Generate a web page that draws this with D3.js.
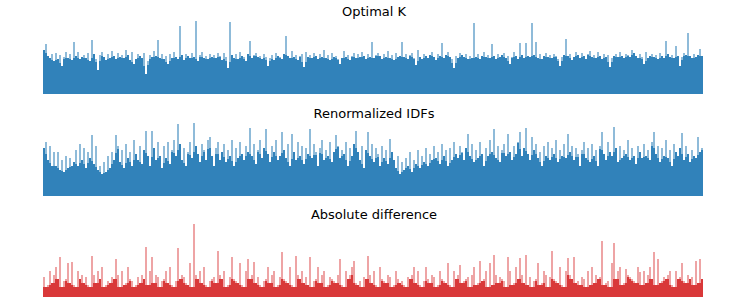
<!DOCTYPE html>
<html>
<head>
<meta charset="utf-8">
<script src="https://cdn.jsdelivr.net/npm/d3@7"></script>
<style>
  body { margin: 0; background: #fff; }
  svg text { font-family: "DejaVu Sans", sans-serif; }
</style>
</head>
<body>
<svg id="chart" width="747" height="308"></svg>
<script>
// values, one value per ~2px column
const optimalK = [
  44,50,38,36,40,33,41,35,39,28,37,42,36,40,34,52,38,42,35,37,39,36,41,33,54,40,35,24,39,42,
  37,34,40,36,43,38,35,41,37,39,36,44,39,34,42,30,35,40,38,36,41,20,33,39,37,43,38,54,36,40,
  35,38,30,40,36,42,37,35,68,39,34,40,38,36,41,37,73,33,39,42,36,38,35,40,37,39,36,41,38,34,
  41,37,26,72,39,36,40,35,42,38,37,33,40,53,36,39,41,37,38,35,40,37,28,36,39,34,41,38,37,35,
  40,58,38,36,43,37,39,34,38,40,27,42,37,39,36,41,38,35,40,37,44,36,39,34,41,37,38,35,30,36,
  43,37,39,34,38,41,36,40,37,42,38,35,40,37,52,36,39,41,38,35,40,37,43,36,39,34,41,37,38,52,
  37,40,35,39,41,36,29,44,37,35,40,38,36,39,42,37,34,40,38,51,36,39,42,37,35,26,38,36,41,39,
  37,40,35,38,36,71,37,40,35,38,42,37,39,36,50,38,35,40,37,39,41,36,38,30,37,42,38,35,51,39,
  36,51,38,37,71,39,52,36,40,35,38,41,37,39,36,40,38,35,28,37,39,55,38,40,34,37,42,39,36,41,
  38,35,40,43,37,39,36,42,38,35,40,37,39,27,36,38,40,37,42,38,36,40,39,37,44,41,38,36,40,37,
  30,42,36,38,40,37,39,35,41,38,36,53,40,37,39,36,48,38,28,37,41,39,61,38,36,40,37,39,45,38
];

const renormIDF = [
  48,54,36,50,30,44,30,44,26,36,24,40,28,38,30,34,46,30,52,36,48,28,44,38,61,32,50,26,30,22,
  34,24,40,28,44,36,61,50,34,46,28,52,38,44,30,56,42,36,50,32,46,65,40,30,65,48,36,54,40,28,
  50,38,54,32,46,56,40,72,52,36,48,30,44,54,38,73,50,42,34,52,46,36,56,59,40,30,48,54,36,44,
  52,34,46,40,56,30,48,38,54,42,36,50,44,68,40,52,32,46,56,38,48,67,42,34,50,44,56,36,40,64,
  46,38,52,30,62,44,36,54,40,50,32,48,42,67,38,52,44,30,48,56,36,46,40,54,34,44,61,50,38,46,
  42,54,30,48,40,52,65,44,36,50,28,46,64,40,52,34,48,42,30,50,38,46,32,57,44,36,28,40,22,34,
  26,38,30,44,24,36,32,46,28,40,34,48,30,42,36,50,38,44,32,52,40,46,30,48,36,54,42,38,50,44,
  36,48,62,40,52,34,46,38,54,42,30,48,40,56,44,67,38,50,34,46,52,40,62,44,36,50,42,54,64,40,
  48,68,42,36,59,46,52,38,44,30,50,40,54,36,48,42,56,34,46,40,52,38,62,44,50,36,48,42,30,46,
  54,38,48,34,52,40,46,30,50,64,42,36,54,44,40,69,48,34,50,38,46,42,56,36,48,40,32,50,44,38,
  52,40,46,36,54,64,42,50,34,48,40,56,38,46,30,52,44,40,48,63,36,50,42,34,46,40,38,59,44,48
];

const absDiff = [
  20,10,12,26,14,22,30,18,40,10,16,18,34,14,35,12,10,26,18,22,14,20,12,10,41,22,14,26,18,30,
  10,12,16,14,20,18,38,22,10,26,12,14,30,18,16,10,12,20,14,22,18,50,12,26,40,14,22,20,10,16,
  18,26,14,30,12,10,16,49,18,22,20,14,12,34,10,73,22,18,26,14,30,12,10,16,18,20,14,46,22,18,
  26,10,12,20,40,18,16,14,34,12,10,26,38,18,22,35,14,20,12,10,16,18,30,14,22,26,10,12,20,45,
  18,16,14,30,12,10,41,22,18,26,14,20,12,40,10,16,18,30,14,22,26,10,12,20,18,16,14,22,38,12,
  10,26,18,22,30,36,14,12,16,10,20,18,41,22,14,26,12,10,30,18,16,14,22,20,10,12,26,18,14,16,
  12,10,20,18,22,30,14,26,12,10,16,30,18,14,22,20,10,12,26,18,16,14,34,12,10,26,18,22,32,14,
  16,18,20,10,22,30,12,14,36,16,18,26,10,34,12,42,22,14,20,18,16,10,40,26,12,14,30,18,39,22,
  14,42,12,20,10,16,18,34,12,14,26,22,10,20,46,18,16,14,30,12,10,26,39,22,18,40,14,16,12,20,
  18,10,26,12,30,14,22,18,20,56,12,14,16,10,34,54,18,26,30,12,14,28,22,20,18,16,14,30,25,12,
  26,14,22,30,18,45,12,38,14,16,20,18,22,26,12,10,26,18,20,34,16,14,22,18,20,12,36,14,38,18
];

const titles = ["Optimal K", "Renormalized IDFs", "Absolute difference"];
const colors = ["#1f77b4", "#1f77b4", "#d62728"];

const svg = d3.select("svg#chart");
const left = 43, right = 703;

// baseline / top of tallest bar / title baseline for each panel
const panels = [
  { values: optimalK,  base: 94,  top: 21,  titleY: 16,  tip: 0.5 },
  { values: renormIDF, base: 196, top: 123, titleY: 118, tip: 0.5 },
  { values: absDiff,   base: 297, top: 224, titleY: 219, tip: 0.42 }
];

panels.forEach(function(p, k) {
  const vals = p.values;
  const n = vals.length;
  const x = d3.scaleLinear().domain([0, n]).range([left, right]);
  const y = d3.scaleLinear().domain([0, d3.max(vals)]).range([p.base, p.top]);

  const g = svg.append("g").attr("class", "panel");

  // dark part: the bar's value capped by its neighbours (lowest neighbour for the red one)
  const body = k === 2
    ? (d, i) => Math.min(d, vals[i - 1] ?? d, vals[i + 1] ?? d)
    : (d, i) => Math.min(d, ((vals[i - 1] ?? d) + (vals[i + 1] ?? d)) / 2);

  g.append("g").selectAll("rect")
    .data(vals)
    .enter()
    .append("rect")
    .attr("x", (d, i) => x(i))
    .attr("width", (d, i) => x(i + 1) - x(i))
    .attr("y", (d, i) => y(body(d, i)))
    .attr("height", (d, i) => p.base - y(body(d, i)))
    .attr("fill", colors[k])
    .attr("fill-opacity", 0.92)
    .attr("shape-rendering", "crispEdges");

  // lighter tip: from the dark part up to the bar's own value
  g.append("g").selectAll("rect")
    .data(vals)
    .enter()
    .append("rect")
    .attr("x", (d, i) => x(i))
    .attr("width", (d, i) => x(i + 1) - x(i))
    .attr("y", d => y(d))
    .attr("height", (d, i) => y(body(d, i)) - y(d))
    .attr("fill", colors[k])
    .attr("fill-opacity", p.tip)
    .attr("shape-rendering", "crispEdges");

  svg.append("text")
    .attr("x", (left + right) / 2 + 1)
    .attr("y", p.titleY)
    .attr("text-anchor", "middle")
    .attr("font-size", 13)
    .attr("fill", "#000")
    .text(titles[k]);
});
</script>
</body>
</html>
